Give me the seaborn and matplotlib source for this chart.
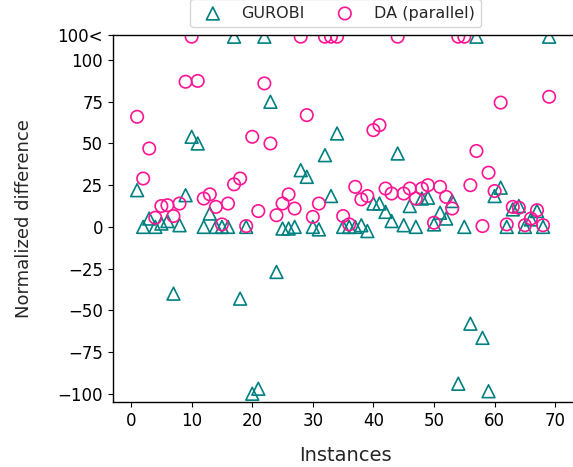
import numpy as np
import pandas as pd
import matplotlib
matplotlib.use("Agg")
import matplotlib.pyplot as plt
import seaborn as sns

# values above 100 are drawn on the top edge ("100<")
TOP = 114

instances = list(range(1, 70))

gurobi = [22, 0, 5, 0, 2, 3.5, -40, 1, 19, 54,
          50, 0, 8, 0, 0, 0, TOP, -43, 0, -100,
          -97, TOP, 75, -27, -1, -1, 0, 34, 30, 0,
          -1.5, 43, 18.5, 56, 0, 0, 0, 1, -2.5, 14,
          14, 9, 3.5, 44, 1, 12.5, 0, 17, 17.5, 1.5,
          8.5, 5, 15.5, -94, 0, -58, TOP, -66.5, -98.5, 18.5,
          23.5, 0, 10.5, 12.5, 0, 4.5, 9.5, 0, TOP]

da_parallel = [66, 29, 47, 5.5, 12.5, 13, 6.5, 14, 87, TOP,
               87.5, 17, 19.5, 12, 1.5, 14, 25.5, 29, 0.5, 54,
               9.5, 86, 50, 7, 14, 19.5, 11, TOP, 67, 6,
               14, TOP, TOP, TOP, 6.5, 1.5, 24, 16.5, 18.5, 58,
               61, 23, 20, TOP, 20, 23, 17, 23, 25, 2.5,
               24, 18, 11, TOP, TOP, 25, 45.5, 0.5, 32.5, 21.5,
               74.5, 1.5, 12, 11.5, 1, 5, 10, 1, 78]

ytick_vals = [-100, -75, -50, -25, 0, 25, 50, 75, 100, 115]
ytick_labels = ["\u2212100", "\u221275", "\u221250", "\u221225", "0", "25", "50", "75", "100", "100<"]

df = pd.DataFrame({"instance": instances, "GUROBI": gurobi, "DA (parallel)": da_parallel})

sns.set_style("ticks")
fig = plt.figure(figsize=(5.73, 4.67), dpi=100)
ax = fig.add_axes([0.197, 0.139, 0.81, 0.786])

sns.scatterplot(x="instance", y="GUROBI", data=df, ax=ax, marker="^", s=85,
                color="none", edgecolor="teal", linewidth=1.2, label="GUROBI")
sns.scatterplot(x="instance", y="DA (parallel)", data=df, ax=ax, marker="o", s=80,
                color="none", edgecolor="deeppink", linewidth=1.2, label="DA (parallel)")

ax.set_xlim(-3, 73.6)
ax.set_ylim(-105, 115)
ax.set_xticks([0, 10, 20, 30, 40, 50, 60, 70])
ax.set_yticks(ytick_vals)
ax.set_yticklabels(ytick_labels)
ax.tick_params(labelsize=12, colors="black")
ax.set_xlabel("Instances", fontsize=14, labelpad=12)
ax.set_ylabel("Normalized difference", fontsize=13, labelpad=18)
for sp in ax.spines.values():
    sp.set_color("black")
    sp.set_linewidth(1.0)
# right edge of the axes falls outside the picture
ax.spines["right"].set_visible(False)

ax.legend(loc="lower center", bbox_to_anchor=(0.48, 1.0), ncol=2, fontsize=11.5,
          frameon=True, columnspacing=1.5)

fig.savefig("out.png", dpi=100)
